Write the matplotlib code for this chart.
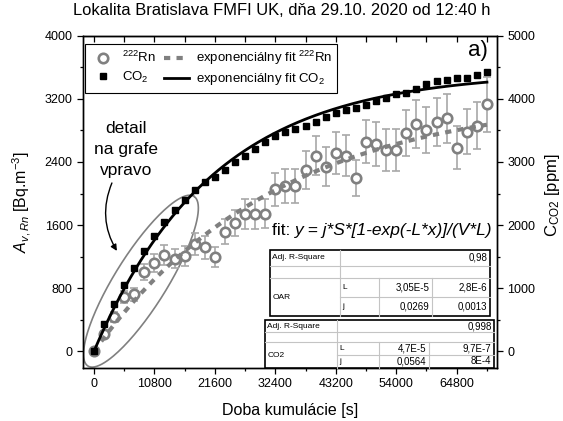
import numpy as np
import matplotlib
matplotlib.use("Agg")
import matplotlib.pyplot as plt
from matplotlib.lines import Line2D
from matplotlib.patches import Rectangle
from matplotlib.ticker import MultipleLocator

plt.rcParams['font.family'] = ['Liberation Sans', 'DejaVu Sans']
plt.rcParams['mathtext.fontset'] = 'custom'
plt.rcParams['mathtext.rm'] = 'Liberation Sans'
plt.rcParams['mathtext.it'] = 'Liberation Sans:italic'

# ---------------------------------------------------------------------
# Measured data (sampling every 30 min)
# ---------------------------------------------------------------------
time_s = [0, 1800, 3600, 5400, 7200, 9000, 10800, 12600, 14400, 16200,
          18000, 19800, 21600, 23400, 25200, 27000, 28800, 30600, 32400, 34200,
          36000, 37800, 39600, 41400, 43200, 45000, 46800, 48600, 50400, 52200,
          54000, 55800, 57600, 59400, 61200, 63000, 64800, 66600, 68400, 70200]

rn = [0, 225, 436, 690, 724, 1007, 1121, 1219, 1177, 1206,
      1359, 1317, 1195, 1515, 1626, 1740, 1740, 1745, 2053, 2095,
      2095, 2294, 2480, 2341, 2510, 2480, 2193, 2658, 2629, 2552,
      2548, 2772, 2883, 2806, 2912, 2955, 2582, 2785, 2861, 3133]

rn_err = [0, 40, 60, 75, 80, 105, 115, 125, 125, 125,
          140, 140, 130, 160, 170, 185, 185, 185, 212, 220,
          220, 240, 250, 245, 265, 260, 230, 275, 275, 270,
          265, 290, 300, 295, 305, 310, 270, 290, 300, 350]

co2 = [0, 429, 757, 1059, 1329, 1592, 1821, 2043, 2243, 2397,
       2560, 2680, 2760, 2873, 3005, 3095, 3201, 3322, 3413, 3481,
       3524, 3577, 3640, 3720, 3783, 3825, 3852, 3905, 3958, 4011,
       4080, 4100, 4153, 4238, 4286, 4302, 4328, 4328, 4370, 4418]

# fit parameters y = j*S*[1-exp(-L*x)]/(V*L)
S_V = 3.69              # surface / volume of the accumulation chamber
L_rn, L_rn_err = 3.05e-5, 2.8e-6
j_rn, j_rn_err = 0.0269, 0.0013
L_co2, L_co2_err = 4.7e-5, 9.7e-7
j_co2, j_co2_err = 0.0564, 8e-4
r2_rn, r2_co2 = "0,98", "0,998"

x_ticks = [0, 10800, 21600, 32400, 43200, 54000, 64800]


def exp_fit(t, j, L):
    return j * S_V * (1 - np.exp(-L * t)) / L


def fmt(v):
    return v.replace(".", ",")


def draw_table(ax, xs, ys, name, r2, rows):
    """Small fit-result table drawn in axes coordinates."""
    tr = ax.transAxes
    grey = "#c4c4c4"
    kw = dict(color=grey, lw=0.8, transform=tr, clip_on=False, zorder=6)
    for y in ys[1:3]:
        ax.plot([xs[0], xs[4]], [y, y], **kw)
    ax.plot([xs[1], xs[4]], [ys[3], ys[3]], **kw)
    ax.plot([xs[1], xs[1]], [ys[0], ys[4]], **kw)
    for x in xs[2:4]:
        ax.plot([x, x], [ys[2], ys[4]], **kw)
    ax.add_patch(Rectangle((xs[0], ys[4]), xs[4] - xs[0], ys[0] - ys[4],
                           fill=True, fc="white", ec="black", lw=1.2,
                           transform=tr, clip_on=False, zorder=5))
    lbl = dict(fontsize=6, transform=tr, va="center", zorder=7)
    num = dict(fontsize=7, transform=tr, va="center", zorder=7)
    pad = 0.006
    ax.text(xs[0] + pad, (ys[0] + ys[1]) / 2, "Adj. R-Square", ha="left", **lbl)
    ax.text(xs[4] - pad, (ys[0] + ys[1]) / 2, r2, ha="right", **num)
    ax.text(xs[0] + pad, (ys[2] + ys[4]) / 2, name, ha="left", **lbl)
    for i, (sym, val, err) in enumerate(rows):
        yc = (ys[2 + i] + ys[3 + i]) / 2
        ax.text(xs[1] + pad, yc, sym, ha="left", **lbl)
        ax.text(xs[3] - pad, yc, val, ha="right", **num)
        ax.text(xs[4] - pad, yc, err, ha="right", **num)


fig = plt.figure(figsize=(5.63, 4.21), dpi=100)
ax = fig.add_axes([0.1474, 0.1259, 0.7354, 0.7893])
ax2 = ax.twinx()

t_fit = np.linspace(0, time_s[-1], 300)

# radon: error bars, points, fit
ax.errorbar(time_s, rn, yerr=rn_err, fmt="none", ecolor="#a8a8a8",
            elinewidth=1.2, capsize=3, capthick=1.2, zorder=2)
ax.plot(time_s, rn, "o", ms=6.8, mfc="white", mec="#808080", mew=1.9, zorder=3)
ax.plot(t_fit, exp_fit(t_fit, j_rn, L_rn), color="#808080", lw=3,
        dashes=(1.5, 1.5), zorder=4)

# CO2 on the right axis
ax2.plot(time_s, co2, "s", ms=5, color="black", zorder=3)
ax2.plot(t_fit, exp_fit(t_fit, j_co2, L_co2), color="black", lw=2, zorder=4)

ax.set_xlim(-1950, 72000)
ax.set_ylim(-210, 4000)
ax2.set_ylim(-262.5, 5000)

ax.set_xticks(x_ticks)
ax.xaxis.set_minor_locator(MultipleLocator(5400))
ax.set_yticks(range(0, 4001, 800))
ax.yaxis.set_minor_locator(MultipleLocator(400))
ax2.set_yticks(range(0, 5001, 1000))
ax2.yaxis.set_minor_locator(MultipleLocator(500))

for a in (ax, ax2):
    a.tick_params(which="major", length=4, width=0.9, labelsize=9, direction="out")
    a.tick_params(which="minor", length=2.5, width=0.9, direction="out")
    for s in a.spines.values():
        s.set_linewidth(1.0)

top = ax.secondary_xaxis("top")
top.set_xticks(x_ticks)
top.xaxis.set_minor_locator(MultipleLocator(5400))
top.tick_params(which="both", direction="in", length=4, width=0.9, labeltop=False)

ax.set_xlabel("Doba kumulácie [s]", fontsize=11.5, labelpad=9)
ax.set_ylabel(r"$\mathit{A}_{\mathit{v,Rn}}$ [Bq.m$^{-3}$]", fontsize=11.5, labelpad=8)
ax2.set_ylabel(r"C$_{\mathrm{CO2}}$ [ppm]", fontsize=12)
ax2.yaxis.set_label_coords(1.112, 0.52)

fig.text(0.5, 0.976, "Lokalita Bratislava FMFI UK, dňa 29.10. 2020 od 12:40 h",
         ha="center", va="center", fontsize=11.9)

# legend
h_rn = Line2D([], [], ls="none", marker="o", ms=6.8, mfc="white", mec="#808080", mew=1.9)
h_rnfit = Line2D([], [], color="#808080", lw=3, dashes=(1.5, 1.5))
h_co2 = Line2D([], [], ls="none", marker="s", ms=5, color="black")
h_co2fit = Line2D([], [], color="black", lw=2)
leg = ax2.legend([h_rn, h_co2, h_rnfit, h_co2fit],
                 [r"$^{222}$Rn", r"CO$_2$", r"exponenciálny fit $^{222}$Rn",
                  r"exponenciálny fit CO$_2$"],
                 ncol=2, loc="upper left", bbox_to_anchor=(0.005, 0.975),
                 borderaxespad=0, fontsize=9.5, fancybox=False, framealpha=1,
                 edgecolor="black", handlelength=1.9, columnspacing=0.6,
                 handletextpad=0.5, labelspacing=0.3, borderpad=0.4)
leg.get_frame().set_linewidth(0.8)

ax2.text(0.979, 0.986, "a)", transform=ax.transAxes, ha="right", va="top", fontsize=16)

# detail marker: ellipse around the first hours + arrow and note
th = np.linspace(0, 2 * np.pi, 200)
ell_c, ell_u, ell_v = (8400, 890), (9470, 1075), (3940, -175)
ax.plot(ell_c[0] + ell_u[0] * np.cos(th) + ell_v[0] * np.sin(th),
        ell_c[1] + ell_u[1] * np.cos(th) + ell_v[1] * np.sin(th),
        color="#808080", lw=1.2, zorder=1)
ax.text(5715, 2552, "detail\nna grafe\nvpravo", ha="center", va="center",
        fontsize=12.5, linespacing=1.5)
ax.annotate("", xy=(4108, 1273), xytext=(3215, 2134),
            arrowprops=dict(arrowstyle="-|>", color="black", lw=1,
                            connectionstyle="arc3,rad=0.25", mutation_scale=9,
                            shrinkA=0, shrinkB=0))

# fit formula and result tables
t_fit_lbl = ax2.text(0.4565, 0.415, "fit: ", transform=ax.transAxes,
                     ha="left", va="center", fontsize=12.5)
ax2.annotate("y = j*S*[1-exp(-L*x)]/(V*L)", xy=(1, 0), xycoords=t_fit_lbl,
             ha="left", va="bottom", fontsize=12.5, fontstyle="italic")

draw_table(ax2, [0.4517, 0.6208, 0.7150, 0.8430, 0.9831],
           [0.3551, 0.3070, 0.2708, 0.2137, 0.1565], "OAR", r2_rn,
           [("L", fmt("3.05E-5"), fmt("2.8E-6")), ("j", fmt("0.0269"), fmt("0.0013"))])
draw_table(ax2, [0.4396, 0.6135, 0.7150, 0.8357, 0.9928],
           [0.1444, 0.1083, 0.0782, 0.0391, 0.0], "CO2", r2_co2,
           [("L", fmt("4.7E-5"), fmt("9.7E-7")), ("j", fmt("0.0564"), fmt("8E-4"))])

fig.savefig("out.png", dpi=100)
